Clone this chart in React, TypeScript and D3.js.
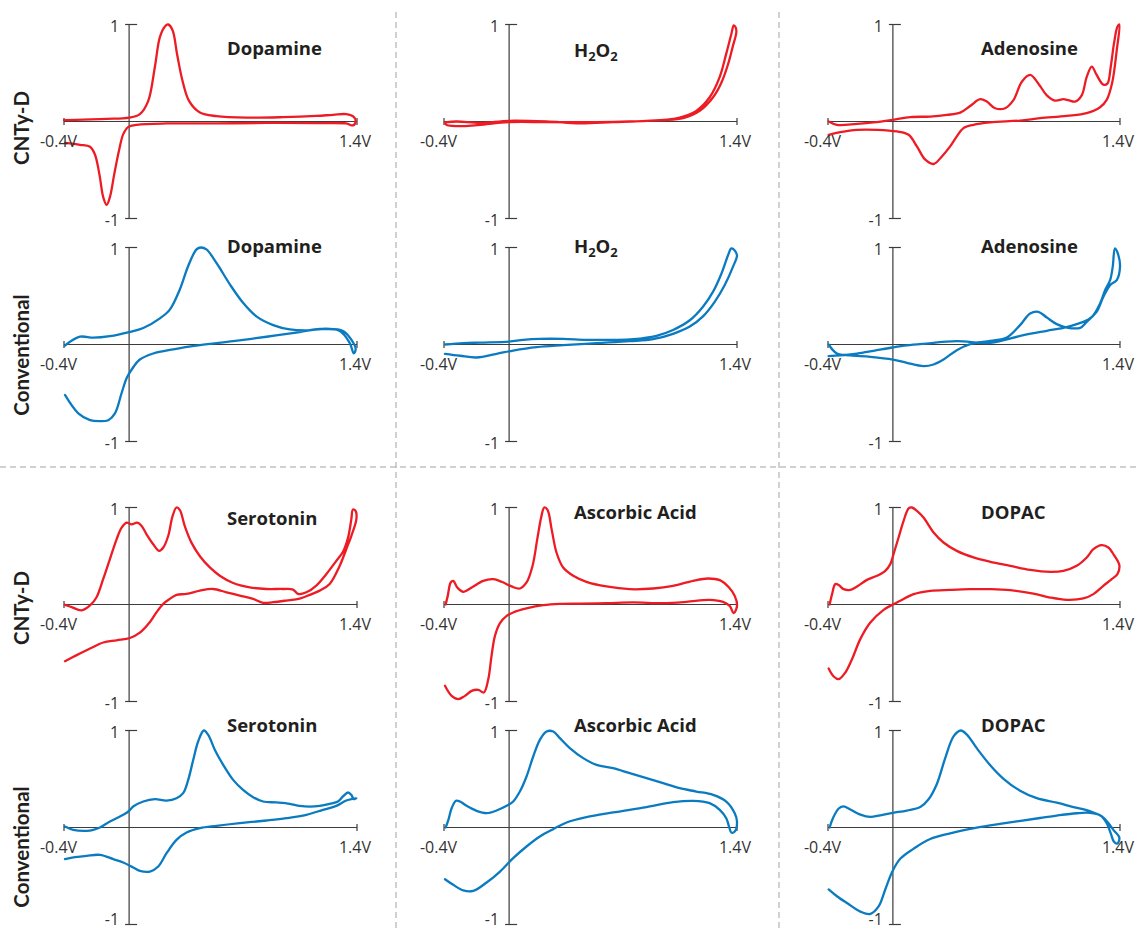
import React from "react";
import * as d3 from "d3";

const svgWidth = 1137;
const svgHeight = 931;

// layout of the 3 x 4 grid of voltammograms
const colRanges = [
  [64, 357],
  [444, 737],
  [828, 1120],
];
const rowTops = [24.5, 247.5, 507.5, 730.5];
const rowHeight = 194;
const titleX = [227, 574, 981];
const rowLabelY = [128, 355, 608, 847];
const dividerX = [396, 779];
const dividerY = 467;

const voltDomain = [-0.4, 1.4];
const currentDomain = [-1, 1];
const rowLabels = ["CNTy-D", "Conventional", "CNTy-D", "Conventional"];
const xTickLabels = ["-0.4V", "1.4V"];
const yTickLabels = ["1", "-1"];

const red = "#ed1c24";
const blue = "#0b7bc1";
const axisColor = "#3c3c3c";
const labelFont = "'Open Sans', Lato, sans-serif";
const rowFont = "Lato, 'Open Sans', sans-serif";

// [potential (V), normalised current] along the sweep, forward then back
const cntyDopamine: [number, number][] = [
  [-0.4, 0.014], [-0.281, 0.02], [-0.138, 0.027], [0, 0.04], [0.066, 0.076],
  [0.117, 0.21], [0.158, 0.56], [0.189, 0.87], [0.22, 0.98], [0.24, 1.0],
  [0.267, 0.94], [0.295, 0.69], [0.328, 0.42], [0.369, 0.21], [0.435, 0.093],
  [0.537, 0.055], [0.741, 0.04], [0.946, 0.045], [1.15, 0.058], [1.253, 0.069],
  [1.334, 0.076], [1.38, 0.048], [1.392, 0], [1.375, -0.04],
  [1.334, -0.02], [1.15, -0.017], [0.844, -0.014], [0.537, -0.02], [0.23, -0.02],
  [0.047, -0.034], [-0.005, -0.055], [-0.036, -0.13], [-0.062, -0.3], [-0.091, -0.54],
  [-0.118, -0.78], [-0.138, -0.86], [-0.159, -0.78], [-0.183, -0.54], [-0.21, -0.34],
  [-0.24, -0.26], [-0.302, -0.24], [-0.394, -0.22],
];

const convDopamine: [number, number][] = [
  [-0.394, -0.01], [-0.302, 0.08], [-0.22, 0.07], [-0.118, 0.086], [0, 0.128],
  [0.087, 0.17], [0.189, 0.27], [0.25, 0.36], [0.312, 0.57], [0.363, 0.81],
  [0.414, 0.98], [0.441, 1.0], [0.475, 0.98], [0.537, 0.84], [0.619, 0.62],
  [0.7, 0.43], [0.782, 0.29], [0.885, 0.2], [0.987, 0.155], [1.089, 0.145],
  [1.212, 0.16], [1.314, 0.14], [1.365, 0.05], [1.392, -0.05], [1.38, -0.09],
  [1.355, 0.017], [1.294, 0.14], [1.171, 0.16], [1.048, 0.128], [0.844, 0.08],
  [0.639, 0.034], [0.435, -0.007], [0.271, -0.05], [0.148, -0.093], [0.066, -0.155],
  [0.015, -0.26], [-0.015, -0.345], [-0.046, -0.5], [-0.087, -0.71], [-0.128, -0.78],
  [-0.179, -0.79], [-0.24, -0.78], [-0.312, -0.71], [-0.394, -0.52],
];

const cntyPeroxide: [number, number][] = [
  [-0.394, -0.01], [-0.322, 0], [-0.179, -0.014], [0, 0.007], [0.23, 0],
  [0.435, -0.02], [0.639, -0.007], [0.844, 0.007], [0.966, 0.02], [1.048, 0.04],
  [1.15, 0.11], [1.232, 0.25], [1.294, 0.46], [1.334, 0.7], [1.365, 0.9],
  [1.38, 0.99], [1.392, 0.97],
  [1.396, 0.92], [1.375, 0.78], [1.345, 0.59], [1.304, 0.4], [1.253, 0.25],
  [1.171, 0.11], [1.069, 0.035], [0.946, 0.014], [0.741, 0], [0.537, -0.007],
  [0.23, -0.007], [0, -0.007], [-0.179, -0.035], [-0.281, -0.048], [-0.384, -0.035],
  [-0.394, -0.014],
];

const convPeroxide: [number, number][] = [
  [-0.394, 0], [-0.281, 0.014], [-0.179, 0.02], [0, 0.03], [0.087, 0.048],
  [0.189, 0.058], [0.332, 0.058], [0.475, 0.048], [0.639, 0.048], [0.762, 0.055],
  [0.905, 0.09], [1.007, 0.15], [1.11, 0.25], [1.191, 0.39], [1.253, 0.545],
  [1.304, 0.73], [1.345, 0.92], [1.365, 0.99], [1.386, 0.97], [1.4, 0.92],
  [1.375, 0.8], [1.324, 0.61], [1.263, 0.44], [1.191, 0.29], [1.11, 0.185],
  [1.007, 0.11], [0.885, 0.055], [0.741, 0.034], [0.537, 0.014], [0.332, -0.007],
  [0.169, -0.027], [0.025, -0.062], [-0.077, -0.096], [-0.2, -0.134], [-0.302, -0.116],
  [-0.394, -0.096],
];

const cntyAdenosine: [number, number][] = [
  [-0.396, 0], [-0.345, -0.034], [-0.221, -0.024], [-0.119, -0.01], [0, 0.017],
  [0.107, 0.045], [0.23, 0.051], [0.333, 0.068], [0.415, 0.092], [0.476, 0.16],
  [0.538, 0.23], [0.579, 0.205], [0.63, 0.137], [0.692, 0.137], [0.743, 0.22],
  [0.795, 0.41], [0.846, 0.48], [0.897, 0.39], [0.949, 0.27], [1.0, 0.216],
  [1.051, 0.23], [1.082, 0.22], [1.123, 0.205], [1.164, 0.27], [1.195, 0.46],
  [1.226, 0.565], [1.256, 0.48], [1.297, 0.38], [1.322, 0.39], [1.343, 0.565],
  [1.363, 0.805], [1.384, 0.976], [1.396, 1.0],
  [1.38, 0.736], [1.351, 0.394], [1.318, 0.223], [1.277, 0.147], [1.195, 0.086],
  [1.072, 0.058], [0.907, 0.034], [0.784, 0.01], [0.6, -0.01], [0.497, -0.034],
  [0.435, -0.068], [0.394, -0.154], [0.353, -0.257], [0.302, -0.36], [0.251, -0.438],
  [0.2, -0.394], [0.148, -0.257], [0.097, -0.137], [0.025, -0.103], [-0.098, -0.086],
  [-0.221, -0.086], [-0.324, -0.11], [-0.396, -0.137],
];

const convAdenosine: [number, number][] = [
  [-0.396, 0], [-0.345, -0.093], [-0.262, -0.113], [-0.139, -0.127], [0, -0.155],
  [0.086, -0.189], [0.189, -0.223], [0.251, -0.206], [0.312, -0.155], [0.394, -0.058],
  [0.476, 0.003], [0.6, 0.038], [0.702, 0.072], [0.784, 0.2], [0.846, 0.32],
  [0.897, 0.337], [0.949, 0.278], [1.01, 0.21], [1.072, 0.175], [1.154, 0.172],
  [1.195, 0.234], [1.236, 0.302], [1.277, 0.423], [1.308, 0.56], [1.339, 0.663],
  [1.355, 0.8], [1.369, 0.99],
  [1.39, 0.92], [1.4, 0.8], [1.38, 0.663], [1.339, 0.612], [1.297, 0.49],
  [1.256, 0.337], [1.205, 0.258], [1.133, 0.21], [1.051, 0.172], [0.949, 0.141],
  [0.805, 0.096], [0.6, 0.017], [0.394, 0.034], [0.189, 0.007], [0.086, -0.01],
  [0, -0.031], [-0.119, -0.065], [-0.221, -0.093], [-0.324, -0.113], [-0.396, -0.12],
];

const cntySerotonin: [number, number][] = [
  [-0.394, -0.003], [-0.353, -0.027], [-0.292, -0.061], [-0.24, -0.01], [-0.2, 0.075],
  [-0.159, 0.263], [-0.118, 0.468], [-0.077, 0.672], [-0.046, 0.792], [-0.015, 0.843],
  [0.015, 0.826], [0.05, 0.843], [0.077, 0.809], [0.107, 0.724], [0.148, 0.621],
  [0.185, 0.553], [0.21, 0.587], [0.24, 0.706], [0.267, 0.911], [0.291, 1.0],
  [0.312, 0.973], [0.342, 0.809], [0.383, 0.638], [0.435, 0.498], [0.496, 0.382],
  [0.557, 0.297], [0.639, 0.222], [0.741, 0.177], [0.844, 0.16], [0.946, 0.16],
  [1.007, 0.154], [1.038, 0.109], [1.089, 0.126], [1.15, 0.195], [1.212, 0.314],
  [1.273, 0.45], [1.314, 0.543], [1.345, 0.689], [1.365, 0.877], [1.375, 0.98],
  [1.392, 0.962], [1.396, 0.877],
  [1.365, 0.706], [1.334, 0.57], [1.294, 0.4], [1.232, 0.212], [1.171, 0.143],
  [1.11, 0.099], [1.048, 0.061], [0.966, 0.041], [0.885, 0.024], [0.823, 0.017],
  [0.762, 0.058], [0.68, 0.092], [0.598, 0.126], [0.516, 0.16], [0.435, 0.143],
  [0.353, 0.109], [0.291, 0.099], [0.25, 0.058], [0.21, 0.007], [0.169, -0.078],
  [0.128, -0.181], [0.066, -0.29], [0.005, -0.345], [-0.077, -0.369], [-0.159, -0.392],
  [-0.24, -0.454], [-0.322, -0.522], [-0.394, -0.584],
];

const convSerotonin: [number, number][] = [
  [-0.394, 0.01], [-0.343, -0.024], [-0.261, -0.034], [-0.22, -0.024], [-0.179, 0],
  [-0.118, 0.062], [-0.056, 0.113], [-0.005, 0.165], [0.025, 0.216], [0.087, 0.268],
  [0.158, 0.292], [0.23, 0.278], [0.291, 0.302], [0.332, 0.354], [0.363, 0.491],
  [0.394, 0.698], [0.424, 0.887], [0.459, 1.0], [0.486, 0.955], [0.527, 0.8],
  [0.578, 0.646], [0.639, 0.491], [0.7, 0.388], [0.762, 0.313], [0.823, 0.268],
  [0.905, 0.258], [0.987, 0.244], [1.048, 0.223], [1.11, 0.216], [1.171, 0.223],
  [1.232, 0.244], [1.283, 0.268], [1.314, 0.32], [1.345, 0.361], [1.365, 0.337],
  [1.38, 0.292], [1.396, 0.302],
  [1.334, 0.278], [1.273, 0.223], [1.191, 0.182], [1.089, 0.131], [0.966, 0.096],
  [0.844, 0.072], [0.68, 0.045], [0.537, 0.017], [0.435, -0.007], [0.353, -0.052],
  [0.291, -0.127], [0.23, -0.265], [0.179, -0.402], [0.128, -0.454], [0.066, -0.447],
  [0.025, -0.412], [-0.036, -0.361], [-0.097, -0.326], [-0.179, -0.282], [-0.261, -0.292],
  [-0.332, -0.306], [-0.394, -0.326],
];

const cntyAscorbic: [number, number][] = [
  [-0.39, 0], [-0.377, 0.089], [-0.359, 0.227], [-0.343, 0.244], [-0.318, 0.175],
  [-0.281, 0.131], [-0.23, 0.175], [-0.159, 0.244], [-0.097, 0.261], [-0.046, 0.234],
  [0.015, 0.186], [0.066, 0.165], [0.107, 0.227], [0.144, 0.399], [0.173, 0.674],
  [0.199, 0.914], [0.216, 1.0], [0.236, 0.976], [0.261, 0.777], [0.291, 0.536],
  [0.332, 0.381], [0.394, 0.296], [0.475, 0.234], [0.598, 0.186], [0.741, 0.158],
  [0.885, 0.165], [1.007, 0.192], [1.13, 0.244], [1.222, 0.268], [1.294, 0.251],
  [1.351, 0.175], [1.386, 0.089], [1.4, -0.014], [1.38, -0.089],
  [1.355, -0.014], [1.314, 0.027], [1.232, 0.048], [1.089, 0.027], [0.946, 0.014],
  [0.762, 0.021], [0.598, 0.014], [0.435, 0.01], [0.312, 0.007], [0.21, -0.007],
  [0.107, -0.041], [0.025, -0.082], [-0.015, -0.117], [-0.056, -0.192], [-0.087, -0.323],
  [-0.108, -0.529], [-0.128, -0.77], [-0.155, -0.907], [-0.189, -0.88], [-0.23, -0.89],
  [-0.271, -0.942], [-0.312, -0.976], [-0.353, -0.942], [-0.394, -0.838],
];

const convAscorbic: [number, number][] = [
  [-0.39, 0], [-0.373, 0.079], [-0.353, 0.199], [-0.326, 0.275], [-0.302, 0.268],
  [-0.261, 0.223], [-0.2, 0.172], [-0.138, 0.148], [-0.077, 0.175], [-0.015, 0.223],
  [0.025, 0.268], [0.066, 0.371], [0.107, 0.526], [0.148, 0.732], [0.189, 0.904],
  [0.23, 0.99], [0.271, 0.99], [0.312, 0.921], [0.373, 0.818], [0.455, 0.715],
  [0.537, 0.646], [0.639, 0.612], [0.741, 0.56], [0.844, 0.509], [0.946, 0.457],
  [1.048, 0.405], [1.15, 0.371], [1.253, 0.337], [1.334, 0.268], [1.386, 0.148],
  [1.4, 0.062], [1.386, -0.041], [1.365, -0.052], [1.351, 0.01],
  [1.334, 0.096], [1.294, 0.182], [1.232, 0.251], [1.13, 0.275], [1.007, 0.261],
  [0.844, 0.21], [0.639, 0.155], [0.475, 0.107], [0.353, 0.052], [0.271, -0.017],
  [0.189, -0.093], [0.107, -0.196], [0.025, -0.316], [-0.056, -0.454], [-0.138, -0.567],
  [-0.22, -0.653], [-0.281, -0.649], [-0.343, -0.591], [-0.394, -0.533],
];

const cntyDopac: [number, number][] = [
  [-0.39, 0], [-0.375, 0.107], [-0.355, 0.21], [-0.334, 0.2], [-0.304, 0.158],
  [-0.262, 0.151], [-0.221, 0.186], [-0.16, 0.254], [-0.098, 0.296], [-0.047, 0.347],
  [-0.016, 0.416], [0.004, 0.519], [0.035, 0.691], [0.066, 0.863], [0.097, 0.99],
  [0.117, 1.0], [0.148, 0.966], [0.189, 0.897], [0.251, 0.742], [0.312, 0.639],
  [0.394, 0.553], [0.497, 0.485], [0.6, 0.44], [0.723, 0.399], [0.846, 0.357],
  [0.969, 0.337], [1.051, 0.347], [1.133, 0.399], [1.195, 0.485], [1.236, 0.57],
  [1.287, 0.612], [1.328, 0.588], [1.363, 0.509], [1.396, 0.405], [1.384, 0.313],
  [1.349, 0.261],
  [1.297, 0.192], [1.236, 0.107], [1.174, 0.062], [1.072, 0.048], [0.969, 0.072],
  [0.866, 0.113], [0.723, 0.148], [0.6, 0.158], [0.476, 0.158], [0.353, 0.151],
  [0.23, 0.141], [0.128, 0.107], [0.045, 0.038], [0, 0], [-0.057, -0.055],
  [-0.139, -0.186], [-0.201, -0.357], [-0.252, -0.564], [-0.293, -0.701], [-0.334, -0.77],
  [-0.365, -0.742], [-0.396, -0.66],
];

const convDopac: [number, number][] = [
  [-0.39, 0], [-0.369, 0.098], [-0.334, 0.196], [-0.304, 0.218], [-0.262, 0.186],
  [-0.2, 0.133], [-0.139, 0.109], [-0.078, 0.126], [0, 0.151], [0.086, 0.175],
  [0.169, 0.211], [0.22, 0.291], [0.271, 0.449], [0.322, 0.712], [0.374, 0.94],
  [0.419, 1.0], [0.456, 0.958], [0.517, 0.818], [0.6, 0.642], [0.682, 0.502],
  [0.784, 0.379], [0.887, 0.302], [1.01, 0.256], [1.113, 0.211], [1.215, 0.168],
  [1.287, 0.116], [1.328, 0.046], [1.359, -0.025], [1.396, -0.105], [1.384, -0.165],
  [1.363, -0.147], [1.343, -0.06], [1.318, 0.046], [1.277, 0.126], [1.215, 0.151],
  [1.133, 0.147], [1.01, 0.123], [0.907, 0.098], [0.764, 0.063], [0.6, 0.021],
  [0.476, -0.014], [0.353, -0.06], [0.23, -0.119], [0.128, -0.218], [0.045, -0.323],
  [-0.006, -0.463], [-0.047, -0.639], [-0.088, -0.814], [-0.139, -0.891], [-0.2, -0.867],
  [-0.283, -0.779], [-0.345, -0.709], [-0.396, -0.639],
];

const panels = [
  { row: 0, col: 0, title: "Dopamine", data: cntyDopamine, titleDy: 30.5 },
  { row: 0, col: 1, title: "H2O2", data: cntyPeroxide, titleDy: 32 },
  { row: 0, col: 2, title: "Adenosine", data: cntyAdenosine, titleDy: 30.5 },
  { row: 1, col: 0, title: "Dopamine", data: convDopamine, titleDy: 5.5 },
  { row: 1, col: 1, title: "H2O2", data: convPeroxide, titleDy: 5.5 },
  { row: 1, col: 2, title: "Adenosine", data: convAdenosine, titleDy: 5.5 },
  { row: 2, col: 0, title: "Serotonin", data: cntySerotonin, titleDy: 17.5 },
  { row: 2, col: 1, title: "Ascorbic Acid", data: cntyAscorbic, titleDy: 11.5 },
  { row: 2, col: 2, title: "DOPAC", data: cntyDopac, titleDy: 11.5 },
  { row: 3, col: 0, title: "Serotonin", data: convSerotonin, titleDy: 1.5 },
  { row: 3, col: 1, title: "Ascorbic Acid", data: convAscorbic, titleDy: 1.5 },
  { row: 3, col: 2, title: "DOPAC", data: convDopac, titleDy: 1.5 },
];

function Title({ text, x, y }: { text: string; x: number; y: number }) {
  const style = { fontFamily: labelFont, fontWeight: 700, fontSize: 18.5, fill: "#231f20" };
  if (text === "H2O2") {
    return (
      <text x={x} y={y} {...style}>
        H
        <tspan dy={4} fontSize={13}>2</tspan>
        <tspan dy={-4}>O</tspan>
        <tspan dy={4} fontSize={13}>2</tspan>
      </text>
    );
  }
  return (
    <text x={x} y={y} {...style}>
      {text}
    </text>
  );
}

function Panel({ panel }) {
  const { row, col, title, data } = panel;
  const color = row % 2 === 0 ? red : blue;
  const xScale = d3.scaleLinear().domain(voltDomain).range(colRanges[col]);
  const yScale = d3
    .scaleLinear()
    .domain(currentDomain)
    .range([rowTops[row] + rowHeight, rowTops[row]]);
  const path = d3
    .line<[number, number]>()
    .x((d) => xScale(d[0]))
    .y((d) => yScale(d[1]))
    .curve(d3.curveCatmullRom.alpha(0.5));

  const x0 = xScale(0);
  const y0 = yScale(0);
  const labelStyle = { fontFamily: labelFont, fontSize: 16, fill: "#333" };

  return (
    <g className="cv-panel">
      <line x1={xScale(voltDomain[0])} x2={xScale(voltDomain[1])} y1={y0} y2={y0} stroke={axisColor} strokeWidth={1.2} />
      {voltDomain.map((v) => (
        <line key={`xt${v}`} x1={xScale(v)} x2={xScale(v)} y1={y0 - 3.5} y2={y0 + 3.5} stroke={axisColor} strokeWidth={1.2} />
      ))}
      <line x1={x0} x2={x0} y1={yScale(1)} y2={yScale(-1)} stroke={axisColor} strokeWidth={1.2} />
      {currentDomain.map((c) => (
        <line key={`yt${c}`} x1={x0 - 4} x2={x0 + 8} y1={yScale(c)} y2={yScale(c)} stroke={axisColor} strokeWidth={1.2} />
      ))}
      <path d={path(data) ?? ""} fill="none" stroke={color} strokeWidth={2.3} strokeLinejoin="round" strokeLinecap="round" />
      <text x={xScale(voltDomain[0]) - 5.5} y={y0 + 25} textAnchor="middle" {...labelStyle}>
        {xTickLabels[0]}
      </text>
      <text x={xScale(voltDomain[1]) - 2} y={y0 + 25} textAnchor="middle" {...labelStyle}>
        {xTickLabels[1]}
      </text>
      <text x={x0 - 10} y={yScale(1) + 7} textAnchor="end" {...labelStyle}>
        {yTickLabels[0]}
      </text>
      <text x={x0 - 10} y={Math.min(yScale(-1) + 7, svgHeight - 6)} textAnchor="end" {...labelStyle}>
        {yTickLabels[1]}
      </text>
      <Title text={title} x={titleX[col]} y={yScale(1) + panel.titleDy} />
    </g>
  );
}

export default function App() {
  return (
    <svg
      width={svgWidth}
      height={svgHeight}
      viewBox={`0 0 ${svgWidth} ${svgHeight}`}
      style={{ position: "absolute", left: 0, top: 0, background: "#fff" }}
    >
      {dividerX.map((x) => (
        <line key={`dv${x}`} x1={x} x2={x} y1={12} y2={svgHeight} stroke="#a3a3a3" strokeWidth={1} strokeDasharray="6 4" />
      ))}
      <line x1={0} x2={svgWidth} y1={dividerY} y2={dividerY} stroke="#a3a3a3" strokeWidth={1} strokeDasharray="6 4" />
      {rowLabels.map((label, i) => (
        <text
          key={`rl${i}`}
          transform={`translate(29, ${rowLabelY[i]}) rotate(-90)`}
          textAnchor="middle"
          fontFamily={rowFont}
          fontWeight={700}
          fontSize={20.5}
          fill="#231f20"
        >
          {label}
        </text>
      ))}
      {panels.map((p, i) => (
        <Panel key={`panel${i}`} panel={p} />
      ))}
    </svg>
  );
}
